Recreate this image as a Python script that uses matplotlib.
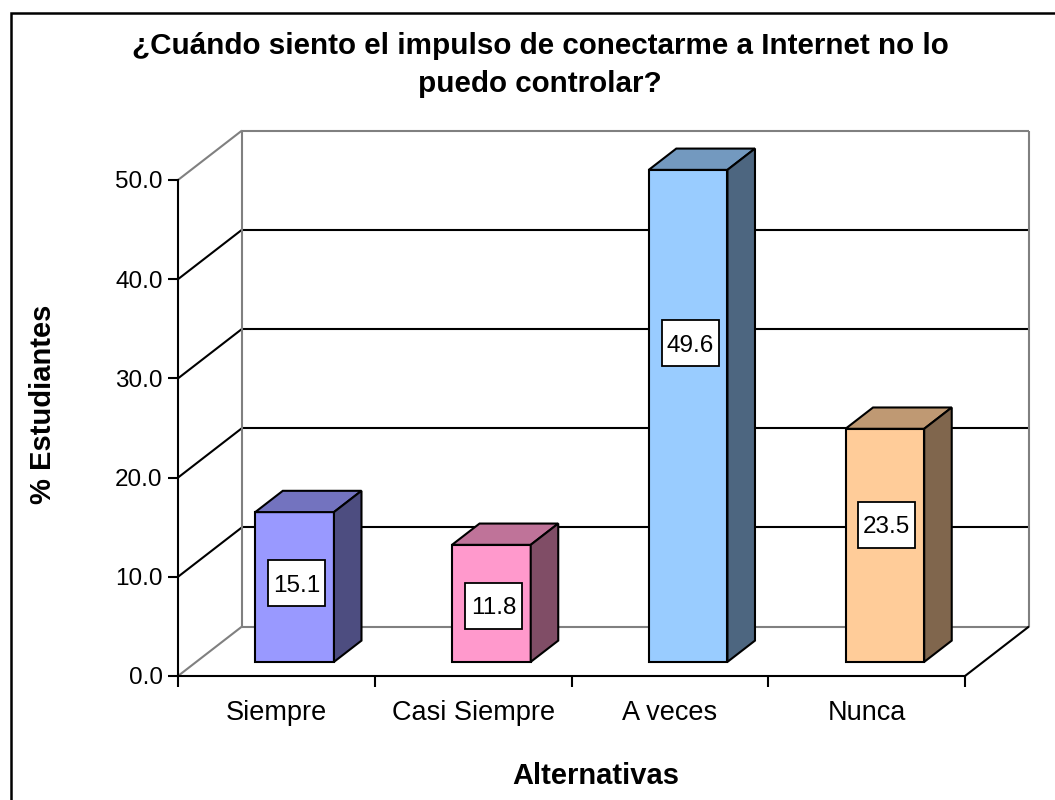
import matplotlib
matplotlib.use("Agg")
import matplotlib.pyplot as plt
import matplotlib.patches as patches
import matplotlib.transforms as mtransforms
import numpy as np

categories = ["Siempre", "Casi Siempre", "A veces", "Nunca"]
values = [15.1, 11.8, 49.6, 23.5]
front_colors = ["#9999FF", "#FF99CC", "#99CCFF", "#FFCC99"]
yticks = [0, 10, 20, 30, 40, 50]
title = "¿Cuándo siento el impulso de conectarme a Internet no lo\npuedo controlar?"

plt.rcParams['font.family'] = ['Liberation Sans', 'DejaVu Sans']

W, H = 1055, 800
fig = plt.figure(figsize=(W / 100, H / 100), dpi=100)
ax = fig.add_axes([178 / W, 1 - 676 / H, (965 - 178) / W, (676 - 180) / H])
ax.set_xlim(0, len(categories))
ax.set_ylim(0, 50)
ax.patch.set_visible(False)

# depth of the 3d box, in data units
DX = 64 / ((965 - 178) / len(categories))
DY = 49.5 / ((676 - 180) / 50)
n = len(categories)
grey = "#808080"


def shade(c, f):
    r, g, b = matplotlib.colors.to_rgb(c)
    return (r * f, g * f, b * f)


def seg(p, q, color, lw=1.5, z=1):
    ax.plot([p[0], q[0]], [p[1], q[1]], color=color, lw=lw, clip_on=False,
            zorder=z, solid_capstyle="butt")


# back wall
for v in yticks:
    c = grey if v in (yticks[0], yticks[-1]) else "black"
    seg((DX, v + DY), (n + DX, v + DY), c)
    seg((0, v), (DX, v + DY), c)
seg((DX, DY), (DX, yticks[-1] + DY), grey)
seg((n + DX, DY), (n + DX, yticks[-1] + DY), grey)
seg((n, 0), (n + DX, DY), "black")

# bars
bw = 0.4
bd = 0.43
f0 = (1 - bd) / 2
box_w, box_h = 0.57, 0.46  # label box size in inches
for i, (v, col) in enumerate(zip(values, front_colors)):
    x0 = i + 0.5 - bw / 2 + f0 * DX
    y0 = f0 * DY
    ax.add_patch(patches.Rectangle((x0, y0), bw, v, fc=col, ec="black",
                                   lw=1.5, clip_on=False, zorder=3))
    top = [(x0, y0 + v), (x0 + bw, y0 + v),
           (x0 + bw + bd * DX, y0 + v + bd * DY), (x0 + bd * DX, y0 + v + bd * DY)]
    ax.add_patch(patches.Polygon(top, closed=True, fc=shade(col, 0.75), ec="black",
                                 lw=1.5, clip_on=False, zorder=3))
    side = [(x0 + bw, y0), (x0 + bw + bd * DX, y0 + bd * DY),
            (x0 + bw + bd * DX, y0 + v + bd * DY), (x0 + bw, y0 + v)]
    ax.add_patch(patches.Polygon(side, closed=True, fc=shade(col, 0.5), ec="black",
                                 lw=1.5, clip_on=False, zorder=3))
    # excel puts the 3d labels a bit off the middle
    cx, cy = x0 + bw / 2 + 0.01, 0.7 * v - 1.2
    tr = fig.dpi_scale_trans + mtransforms.ScaledTranslation(cx, cy, ax.transData)
    ax.add_patch(patches.Rectangle((-box_w / 2, -box_h / 2), box_w, box_h, fc="white",
                                   ec="black", lw=1.3, transform=tr, clip_on=False,
                                   zorder=4))
    ax.text(cx, cy, f"{v:.1f}", ha="center", va="center_baseline",
            fontsize=17.5, zorder=5)

# axes
for s in ("top", "right"):
    ax.spines[s].set_visible(False)
for s in ("left", "bottom"):
    ax.spines[s].set_linewidth(1.5)
    ax.spines[s].set_zorder(5)
ax.set_yticks(yticks)
ax.set_yticklabels([f"{v:.1f}" for v in yticks])
ax.tick_params(axis="y", direction="out", length=7, width=1.5, labelsize=17.5, pad=4)
ax.set_xticks(np.arange(n + 1))
ax.set_xticklabels([])
ax.set_xticks(np.arange(n) + 0.5, minor=True)
ax.set_xticklabels(categories, minor=True)
ax.tick_params(axis="x", which="major", direction="out", length=8, width=1.5)
ax.tick_params(axis="x", which="minor", length=0, labelsize=19.5, pad=17)

fig.text(540 / W, 1 - 65 / H, title, ha="center", va="center", fontsize=21.3,
         fontweight="bold", linespacing=1.45)
fig.text(43 / W, 1 - 404 / H, "% Estudiantes", rotation=90, ha="center",
         va="center", fontsize=21, fontweight="bold")
fig.text(596 / W, 1 - 776 / H, "Alternativas", ha="center", va="center",
         fontsize=21, fontweight="bold")

# chart border
fig.patches.append(patches.Rectangle((11 / W, -0.1), 1.2, 1.1 - 13 / H, fill=False,
                                     ec="black", lw=1.8, transform=fig.transFigure,
                                     figure=fig))

fig.savefig("out.png", dpi=100)
